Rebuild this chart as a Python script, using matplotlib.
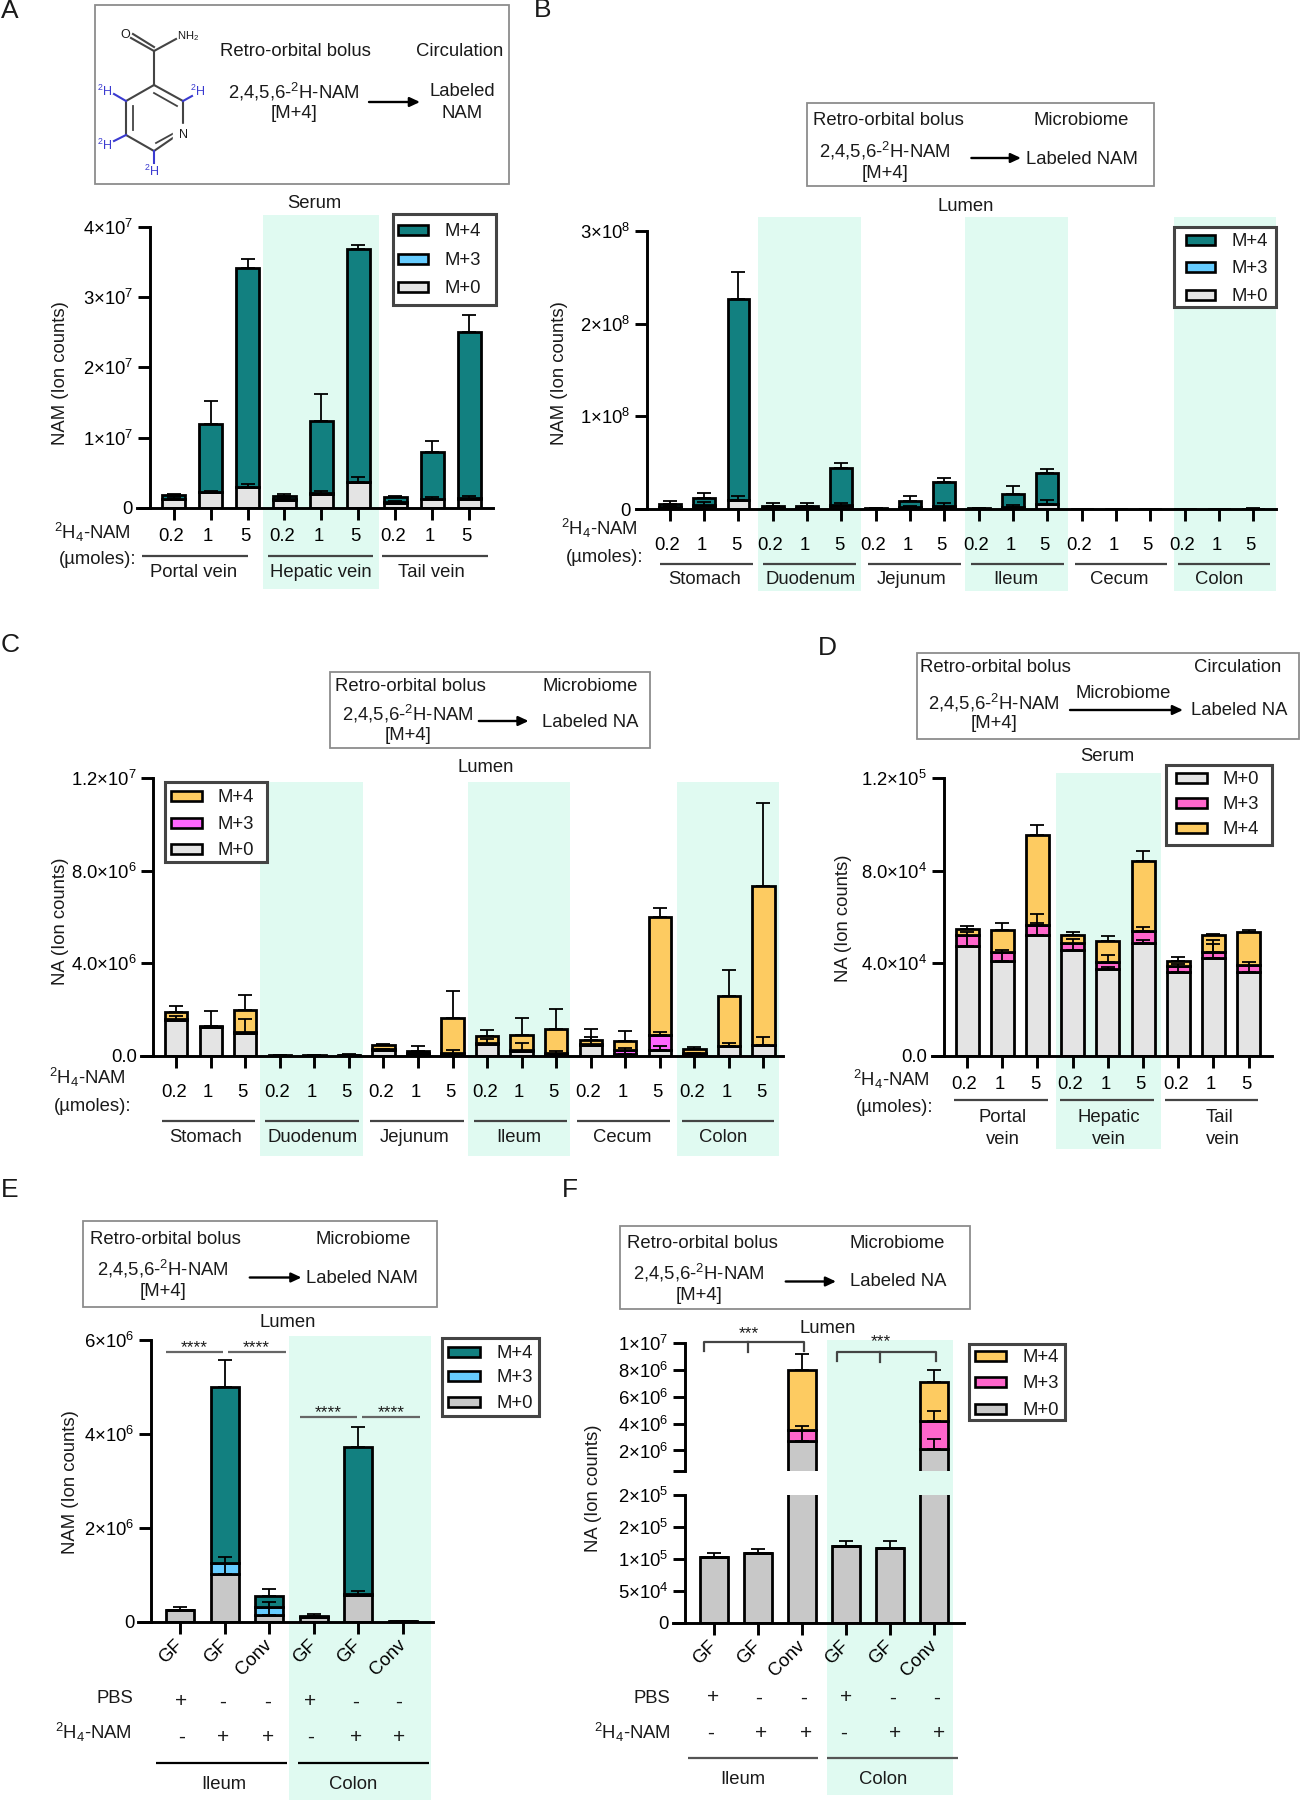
#!/usr/bin/env python3
"""Stacked isotopologue bars for labeled NAM and NA, panels A to F."""
import matplotlib
matplotlib.use('Agg')
import matplotlib.pyplot as plt
from matplotlib.patches import Rectangle
from matplotlib.transforms import ScaledTranslation
import numpy as np

plt.rcParams['font.family'] = ['Liberation Sans', 'DejaVu Sans']
plt.rcParams['mathtext.default'] = 'regular'
plt.rcParams['text.color'] = '#1a1a1a'
plt.rcParams['axes.labelcolor'] = '#1a1a1a'

TEAL = '#128080'
BLUE = '#66CCFF'
LIGHT = '#E4E4E4'
GREY = '#C8C8C8'
YELLOW = '#FDCB61'
PINK = '#FF66FF'
ROSE = '#FF66CC'
BAND = '#E0FAF1'
FS = 13.3

doses = ['0.2', '1', '5']
gut_sites = ['Stomach', 'Duodenum', 'Jejunum', 'Ileum', 'Cecum', 'Colon']
groups_ef = ['GF', 'GF', 'Conv', 'GF', 'GF', 'Conv']
pbs_row = ['+', '-', '-', '+', '-', '-']
nam_row = ['-', '+', '+', '-', '+', '+']

# panel A, units of 1e7
a_m0 = [.12, .22, .29, .11, .20, .365, .07, .12, .13]
a_m3 = [.01, .005, .005, .01, .005, .005, .01, .005, .005]
a_m4 = [.044, .965, 3.125, .05, 1.035, 3.31, .067, .675, 2.375]
a_m0_err = [.03, .015, .05, .03, .035, .07, .03, .027, .033]
a_m3_err = [0, 0, 0, 0, 0, 0, 0, 0, 0]
a_m4_err = [.026, .325, .13, .025, .38, .06, .023, .15, .23]

# panel B, units of 1e8
b_m0 = [.02, .036, .097, .01, .01, .036, .002, .018, .025, .002, .022, .054,
        .0005, .0005, .0005, .0005, .0005, .002]
b_m3 = [.002, .003, .005, .001, .001, .004, .001, .002, .003, .001, .003, .005,
        0, 0, 0, 0, 0, 0]
b_m4 = [.032, .083, 2.164, .021, .021, .402, .003, .063, .267, .003, .137, .331,
        .0005, .0005, .0005, .0005, .0005, .003]
b_m0_err = [.01, .044, .047, .01, .01, .032, .002, .012, .035, .002, .025, .043,
            0, 0, 0, 0, 0, 0]
b_m3_err = [0] * 18
b_m4_err = [.029, .048, .294, .033, .028, .058, .008, .057, .043, .008, .083, .045,
            0, 0, 0, 0, 0, .005]

# panel C, units of 1e6
c_m0 = [1.54, 1.24, .99, .01, .01, .02, .27, .10, .10, .53, .20, .09,
        .49, .10, .27, .10, .42, .46]
c_m3 = [.05, .02, .05, .002, .002, .005, .03, .02, .03, .05, .08, .03,
        .04, .15, .62, .03, .03, .03]
c_m4 = [.295, .05, .93, .018, .028, .035, .175, .11, 1.5, .27, .64, 1.06,
        .17, .40, 5.10, .17, 2.15, 6.86]
c_m0_err = [.17, 0, .61, 0, 0, 0, .05, .05, .16, .20, .35, .11,
            .34, .25, .16, .05, .14, .35]
c_m3_err = [0, 0, 0, 0, 0, 0, 0, 0, 0, 0, 0, 0,
            0, 0, .13, 0, 0, 0]
c_m4_err = [.255, .62, .65, .02, .01, .03, .055, .19, 1.19, .29, .72, .83,
            .45, .41, .38, .09, 1.11, 3.59]

# panel D, units of 1e4
d_m0 = [4.76, 4.09, 5.24, 4.57, 3.75, 4.89, 3.61, 4.24, 3.64]
d_m3 = [.46, .41, .41, .32, .29, .50, .27, .26, .28]
d_m4 = [.25, .92, 3.89, .33, .93, 3.02, .20, .72, 1.42]
d_m0_err = [.60, .48, .51, .50, .10, .11, .38, .76, .41]
d_m3_err = [0, 0, .50, 0, .31, .16, 0, .35, 0]
d_m4_err = [.16, .33, .45, .14, .20, .43, .19, .05, .12]

# panel E, units of 1e6
e_m0 = [.244, 1.027, .143, .10, .56, .005]
e_m3 = [.002, .227, .167, .003, .03, .001]
e_m4 = [.002, 3.736, .246, .015, 3.13, .004]
e_m0_err = [0, .343, .27, 0, .105, 0]
e_m3_err = [0, 0, 0, 0, 0, 0]
e_m4_err = [.066, .57, .134, .05, .42, .005]

# panel F, units of 1e6
f_m0 = [.1034, .110, 2.71, .120, .118, 2.12]
f_m3 = [0, 0, .79, 0, 0, 2.06]
f_m4 = [0, 0, 4.49, 0, 0, 2.96]
f_m0_err = [.0056, .006, 1.09, .008, .010, .74]
f_m3_err = [0, 0, 0, 0, 0, .74]
f_m4_err = [0, 0, 1.18, 0, 0, .88]


fig = plt.figure(figsize=(13, 18), dpi=100)
# full figure axes in pixel coordinates, one behind the panels and one in front
bg = fig.add_axes([0, 0, 1, 1], zorder=0)
ov = fig.add_axes([0, 0, 1, 1], zorder=3)
for a in (bg, ov):
    a.set_xlim(0, 1300)
    a.set_ylim(1800, 0)
    a.axis('off')
    a.patch.set_alpha(0)

squeeze = dict(ox=0, sx=1, oy=0, sy=1)


def fx(x):
    return squeeze['ox'] + (x - squeeze['ox']) * squeeze['sx']


def fy(y):
    return squeeze['oy'] + (y - squeeze['oy']) * squeeze['sy']


def txt(x, y, s, ha='center', size=FS, **kw):
    if 'rotation' in kw:
        x += 2.5
    else:
        y += 1.5
    ov.text(fx(x), fy(y), s, ha=ha, va='center', fontsize=size, **kw)


def hline(x0, x1, y, color='#444444', lw=1.6):
    ov.plot([fx(x0), fx(x1)], [fy(y), fy(y)], color=color, lw=lw, solid_capstyle='butt')


def band(x0, x1, y0, y1):
    bg.add_patch(Rectangle((fx(x0), fy(y0)), fx(x1) - fx(x0), fy(y1) - fy(y0), fc=BAND, ec='none'))


def arrow(x0, x1, y):
    ov.annotate('', xy=(fx(x1), fy(y)), xytext=(fx(x0), fy(y)),
                arrowprops=dict(arrowstyle='-|>,head_width=0.28,head_length=0.6',
                                color='k', lw=1.7, shrinkA=0, shrinkB=0))


def box(x0, x1, y0, y1, ec='#8c8c8c', lw=1.3):
    ov.add_patch(Rectangle((fx(x0), fy(y0)), fx(x1) - fx(x0), fy(y1) - fy(y0), fc='none', ec=ec, lw=lw))


def legend(frame, sx, tx, entries):
    ov.add_patch(Rectangle((fx(frame[0]), fy(frame[2])), fx(frame[1]) - fx(frame[0]), fy(frame[3]) - fy(frame[2]),
                           fc='white', ec='#444444', lw=2.2))
    for y, color, name in entries:
        ov.add_patch(Rectangle((fx(sx[0]), fy(y) - 5), fx(sx[1]) - fx(sx[0]), 10, fc=color, ec='k', lw=1.9))
        txt(tx, y, name)


def panel(left, right, top, bottom, ymin, ymax, t0, dx, spine_x, n, ticklabels=None,
          pad=6, shift=-2.5, width=23, rotated=False):
    left, right, t0, spine_x = fx(left), fx(right), fx(t0), fx(spine_x)
    dx, width = dx * squeeze['sx'], width * squeeze['sx']
    top, bottom = fy(top), fy(bottom)
    ax = fig.add_axes([left / 1300, 1 - bottom / 1800, (right - left) / 1300, (bottom - top) / 1800],
                      zorder=2)
    ax.patch.set_alpha(0)
    ax.set_xlim((left - t0) / dx, (right - t0) / dx)
    ax.set_ylim(ymin, ymax)
    for side in ('top', 'right'):
        ax.spines[side].set_visible(False)
    ax.spines['left'].set_position(('data', (spine_x - t0) / dx))
    ax.spines['left'].set_linewidth(2.1)
    ax.spines['bottom'].set_linewidth(2.1)
    ax.tick_params(axis='y', length=9, width=2.1, pad=3, labelsize=FS)
    ax.tick_params(axis='x', length=8.5, width=2.1, pad=pad, labelsize=FS)
    ax.set_xticks(np.arange(n))
    if ticklabels is not None:
        if rotated:
            ax.set_xticklabels(ticklabels, rotation=45, ha='right', rotation_mode='anchor')
        else:
            ax.set_xticklabels(ticklabels)
        offset = ScaledTranslation(shift / 100, 0, fig.dpi_scale_trans)
        for lab in ax.get_xticklabels():
            lab.set_transform(lab.get_transform() + offset)
    ax.bar_width = width / dx
    return ax


def stack(ax, segs, errs, colors, scale):
    x = np.arange(len(segs[0]))
    base = np.zeros(len(x))
    for seg, err, color in zip(segs, errs, colors):
        seg = np.asarray(seg) * scale
        err = np.asarray(err) * scale
        ax.bar(x, seg, bottom=base, width=ax.bar_width, color=color, edgecolor='k', lw=2.0, zorder=2)
        base = base + seg
        keep = err > 0
        if keep.any():
            ax.errorbar(x[keep], base[keep], yerr=[np.zeros(keep.sum()), err[keep]], fmt='none',
                        ecolor='k', elinewidth=1.3, capsize=5, capthick=1.3, zorder=3)


def sup(v, e):
    return f'{v}×10$^{{{e}}}$'


NAM_LABEL = '$^{2}$H$_{4}$-NAM'
SCHEME_NAM = '2,4,5,6-$^{2}$H-NAM'

# ---------- A
ov.text(1, 11, 'A', fontsize=19, ha='left', va='center')
box(95, 509, 5, 184)
txt(295, 50.5, 'Retro-orbital bolus')
txt(460, 50.5, 'Circulation')
txt(294, 90, SCHEME_NAM)
txt(294, 112, '[M+4]')
arrow(369, 420, 102)
txt(462, 90, 'Labeled')
txt(462, 112, 'NAM')
# nicotinamide sketch
ring = np.array([[154, 85], [183, 101], [183, 131], [154, 151], [126, 135], [126, 101], [154, 85]])
ov.plot(ring[:, 0], ring[:, 1], color='#444444', lw=1.5)
for seg in ([[154, 93], [177, 106]], [[133, 106], [133, 130]], [[156, 143], [176, 132]]):
    s = np.array(seg)
    ov.plot(s[:, 0], s[:, 1], color='#444444', lw=1.3)
for seg in ([[154, 85], [154, 51]], [[154, 51], [176, 39]], [[154, 51], [131, 38]], [[154, 47], [133, 34]]):
    s = np.array(seg)
    ov.plot(s[:, 0], s[:, 1], color='#444444', lw=1.5)
for seg in ([[126, 101], [114, 94]], [[183, 101], [192, 96]], [[126, 135], [114, 141]], [[154, 151], [154, 163]]):
    s = np.array(seg)
    ov.plot(s[:, 0], s[:, 1], color='#3a3ad0', lw=1.5)
txt(125, 34, 'O', size=9)
txt(188, 35, 'NH$_{2}$', size=8)
txt(183, 134, 'N', size=9, backgroundcolor='white')
for hx, hy in ((105, 90), (198, 90), (105, 144), (152, 170)):
    txt(hx, hy, '$^{2}$H', size=9, color='#3a3ad0')

squeeze.update(ox=0, sx=.998, oy=0, sy=.9955)
txt(315, 203, 'Serum')
band(264, 380, 216, 592)
ax = panel(137, 494, 228, 510, 0, 4e7, 174, 37, 150, 9, doses * 3, pad=6)
ax.set_yticks([0, 1e7, 2e7, 3e7, 4e7])
ax.set_yticklabels(['0', sup(1, 7), sup(2, 7), sup(3, 7), sup(4, 7)])
stack(ax, [a_m0, a_m3, a_m4], [a_m0_err, a_m3_err, a_m4_err], [LIGHT, BLUE, TEAL], 1e7)
txt(58, 375, 'NAM (Ion counts)', rotation=90)
txt(93, 533, NAM_LABEL)
txt(98, 561, '(µmoles):')
for x0, x1, xc, name in ((142, 248, 194, 'Portal vein'), (269, 374, 321, 'Hepatic vein'), (383, 489, 432, 'Tail vein')):
    hline(x0, x1, 559)
    txt(xc, 574, name)
legend((394, 497, 215, 306), (399, 429), 464, [(231, TEAL, 'M+4'), (260, BLUE, 'M+3'), (288, LIGHT, 'M+0')])

# ---------- B
squeeze.update(ox=520, sx=.992, oy=0, sy=1)
ov.text(534, 10, 'B', fontsize=19, ha='left', va='center')
box(809, 1159.5, 103, 186)
txt(891, 119, 'Retro-orbital bolus')
txt(1086, 119, 'Microbiome')
txt(888, 149, SCHEME_NAM)
txt(888, 172, '[M+4]')
arrow(975, 1025, 158)
txt(1086, 158, 'Labeled NAM')
txt(969, 205, 'Lumen')
for x0, x1 in ((760, 864), (969, 1072.5), (1179, 1282.5)):
    band(x0, x1, 217, 591)
ax = panel(637, 1282, 231, 509, 0, 3e8, 671, 34.6, 648.5, 18, doses * 6, pad=12, width=22)
ax.set_yticks([0, 1e8, 2e8, 3e8])
ax.set_yticklabels(['0', sup(1, 8), sup(2, 8), sup(3, 8)])
stack(ax, [b_m0, b_m3, b_m4], [b_m0_err, b_m3_err, b_m4_err], [LIGHT, BLUE, TEAL], 1e8)
txt(557, 373, 'NAM (Ion counts)', rotation=90)
txt(600, 527, NAM_LABEL)
txt(605, 556, '(µmoles):')
b_lines = ((661, 754.5, 706), (765, 858.5, 813), (871, 965, 915), (975, 1068.5, 1020), (1079, 1172.5, 1124), (1183.5, 1276.5, 1225))
for (x0, x1, xc), name in zip(b_lines, gut_sites):
    hline(x0, x1, 564)
    txt(xc, 578, name)
legend((1179, 1282, 227, 307), (1191, 1221), 1256, [(240, TEAL, 'M+4'), (267, BLUE, 'M+3'), (295, LIGHT, 'M+0')])

# ---------- C
squeeze.update(ox=0, sx=.9955, oy=0, sy=1)
ov.text(1, 645, 'C', fontsize=19, ha='left', va='center')
box(331, 653, 672, 748)
txt(412, 685, 'Retro-orbital bolus')
txt(593, 685, 'Microbiome')
txt(410, 712, SCHEME_NAM)
txt(410, 734, '[M+4]')
arrow(481, 531, 721)
txt(593, 721, 'Labeled NA')
txt(488, 766, 'Lumen')
for x0, x1 in ((261, 364.6), (470, 573), (680, 783)):
    band(x0, x1, 782, 1156)
ax = panel(142, 787, 778, 1056, 0, 1.2e7, 177, 34.7, 154, 18, doses * 6, pad=12, width=22.5)
ax.set_yticks([0, 4e6, 8e6, 1.2e7])
ax.set_yticklabels(['0.0', sup('4.0', 6), sup('8.0', 6), sup('1.2', 7)])
stack(ax, [c_m0, c_m3, c_m4], [c_m0_err, c_m3_err, c_m4_err], [LIGHT, PINK, YELLOW], 1e6)
txt(58, 921, 'NA (Ion counts)', rotation=90)
txt(88, 1076, NAM_LABEL)
txt(93, 1105, '(µmoles):')
c_lines = ((163, 256, 207), (266, 360.5, 314), (372, 466, 417), (476, 570, 521), (580, 673, 625), (685, 778, 726))
for (x0, x1, xc), name in zip(c_lines, gut_sites):
    hline(x0, x1, 1121)
    txt(xc, 1136, name)
legend((166, 268, 782, 862), (172, 202.5), 237, [(796, YELLOW, 'M+4'), (823, PINK, 'M+3'), (849, LIGHT, 'M+0')])

# ---------- D
squeeze.update(ox=0, sx=1, oy=0, sy=1)
ov.text(818, 648, 'D', fontsize=19, ha='left', va='center')
box(917, 1299, 653, 739)
txt(995, 666, 'Retro-orbital bolus')
txt(1238, 666, 'Circulation')
txt(994, 701, SCHEME_NAM)
txt(994, 722, '[M+4]')
txt(1123, 692, 'Microbiome')
arrow(1070, 1183, 710)
txt(1239, 709, 'Labeled NA')
txt(1107, 755, 'Serum')
band(1056, 1161, 773, 1149)
ax = panel(932, 1272, 778, 1056, 0, 1.2e5, 967, 35.2, 944, 9, doses * 3, pad=6)
ax.set_yticks([0, 4e4, 8e4, 1.2e5])
ax.set_yticklabels(['0.0', sup('4.0', 4), sup('8.0', 4), sup('1.2', 5)])
stack(ax, [d_m0, d_m3, d_m4], [d_m0_err, d_m3_err, d_m4_err], [LIGHT, ROSE, YELLOW], 1e4)
txt(841, 918, 'NA (Ion counts)', rotation=90)
txt(891, 1078, NAM_LABEL)
txt(895, 1106, '(µmoles):')
for x0, x1, xc, name in ((954, 1048, 1003, 'Portal'), (1060, 1154, 1109, 'Hepatic'), (1165, 1258, 1219, 'Tail')):
    hline(x0, x1, 1100)
    txt(xc, 1116, name)
for xc in (1003, 1109, 1223):
    txt(xc, 1138, 'vein')
legend((1166, 1272, 765, 845), (1176, 1207), 1241, [(778, LIGHT, 'M+0'), (803, ROSE, 'M+3'), (828, YELLOW, 'M+4')])

# ---------- E
squeeze.update(ox=0, sx=.995, oy=1180, sy=.995)
ov.text(1, 1190, 'E', fontsize=19, ha='left', va='center')
box(83, 439, 1221, 1308)
txt(166.5, 1238, 'Retro-orbital bolus')
txt(365, 1238, 'Microbiome')
txt(164, 1268, SCHEME_NAM)
txt(164, 1291, '[M+4]')
arrow(251, 303, 1278)
txt(364, 1277, 'Labeled NAM')
txt(289, 1322, 'Lumen')
band(290, 433, 1337, 1803)
ax = panel(139, 435, 1340.6, 1624, 0, 6e6, 181, 44.8, 152, 6, groups_ef, pad=2, shift=-6, width=28, rotated=True)
ax.set_yticks([0, 2e6, 4e6, 6e6])
ax.set_yticklabels(['0', sup(2, 6), sup(4, 6), sup(6, 6)])
stack(ax, [e_m0, e_m3, e_m4], [e_m0_err, e_m3_err, e_m4_err], [GREY, BLUE, TEAL], 1e6)
txt(68, 1484, 'NAM (Ion counts)', rotation=90)
txt(134, 1700, 'PBS', ha='right')
txt(133, 1734, NAM_LABEL, ha='right')
for xc, p, n in zip((182, 224, 269, 312, 357.5, 401), pbs_row, nam_row):
    txt(xc, 1703, p, size=15)
    txt(xc, 1739, n, size=15)
hline(157, 288.6, 1765.5, color='k')
hline(299, 431, 1765.5, color='k')
txt(225, 1786, 'Ileum')
txt(355, 1786, 'Colon')
for x0, x1, y in ((166.5, 224, 1353), (229, 287, 1353), (301.5, 359, 1418), (364, 422, 1418)):
    hline(x0, x1, y, color='#666666')
    txt((x0 + x1) / 2, y - 6, '****', size=12.5)
legend((444, 542, 1339, 1417), (450, 482), 517, [(1353, TEAL, 'M+4'), (1377, BLUE, 'M+3'), (1403, GREY, 'M+0')])

# ---------- F
squeeze.update(ox=560, sx=.9944, oy=1180, sy=.995)
ov.text(562, 1190, 'F', fontsize=19, ha='left', va='center')
box(620.6, 972, 1226, 1309.6)
txt(703, 1242, 'Retro-orbital bolus')
txt(899, 1242, 'Microbiome')
txt(700, 1272, SCHEME_NAM)
txt(700, 1294.5, '[M+4]')
arrow(787, 837.6, 1282)
txt(900, 1280.6, 'Labeled NA')
txt(829, 1328, 'Lumen')
band(829, 955, 1341, 1798)
f_colors = [GREY, ROSE, YELLOW]
# broken axis: same bars in two axes, clipped by the limits
low = panel(674, 966, 1497, 1625, 0, 2e5, 715, 44.3, 686, 6, groups_ef, pad=2, shift=-6, width=28, rotated=True)
low.set_yticks([0, 5e4, 1e5, 1.5e5, 2e5])
low.set_yticklabels(['0', sup(5, 4), sup(1, 5), sup(2, 5), sup(2, 5)])
stack(low, [f_m0, f_m3, f_m4], [f_m0_err, f_m3_err, f_m4_err], f_colors, 1e6)
up = panel(674, 966, 1344, 1472.5, 4.65e5, 1e7, 715, 44.3, 686, 6, width=28)
up.set_yticks([4.65e5, 2e6, 4e6, 6e6, 8e6, 1e7])
up.set_yticklabels(['', sup(2, 6), sup(4, 6), sup(6, 6), sup(8, 6), sup(1, 7)])
up.spines['bottom'].set_visible(False)
up.tick_params(axis='x', length=0, labelbottom=False)
stack(up, [f_m0, f_m3, f_m4], [f_m0_err, f_m3_err, f_m4_err], f_colors, 1e6)
txt(591, 1490, 'NA (Ion counts)', rotation=90)
txt(671, 1700, 'PBS', ha='right')
txt(671, 1734, NAM_LABEL, ha='right')
for xp, xn, p, n in zip((714, 760, 805, 848, 894, 939), (711, 762.5, 807, 845, 897, 941.5), pbs_row, nam_row):
    txt(xp, 1699, p, size=15)
    txt(xn, 1735, n, size=15)
hline(689, 819, 1760.7, color='#555555')
hline(829, 960, 1760.7, color='#555555')
txt(743.5, 1781, 'Ileum')
txt(885, 1781, 'Colon')
for x0, x1, xm, y, ys in ((705, 805, 749, 1342.6, 1333), (838.6, 938, 882, 1352.5, 1341)):
    ov.plot([fx(x0), fx(x0), fx(x1), fx(x1)], [fy(y) + 9, fy(y), fy(y), fy(y) + 9], color='#444444', lw=1.6)
    ov.plot([fx(xm), fx(xm)], [fy(y), fy(y) + 10], color='#444444', lw=1.6)
    txt(xm + 1, ys, '***', size=12.5)
legend((971, 1068, 1344.5, 1421), (977, 1009), 1043, [(1357, YELLOW, 'M+4'), (1383, ROSE, 'M+3'), (1410.5, GREY, 'M+0')])

fig.savefig('out.png', dpi=100)
